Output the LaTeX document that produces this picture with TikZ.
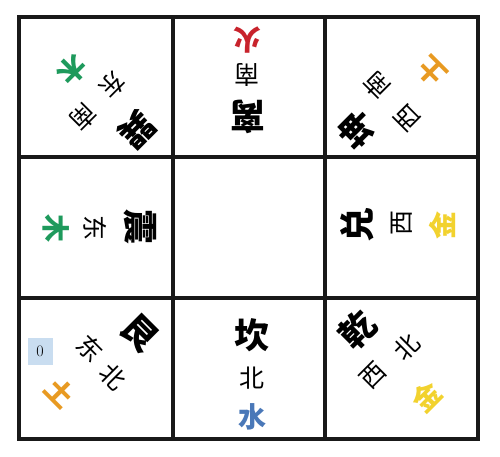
\documentclass[tikz,border=0pt]{standalone}
\usepackage{fontspec}
\newfontfamily\cjk{Noto Sans CJK SC}
\definecolor{mu}{HTML}{1E9A5C}
\definecolor{huo}{HTML}{C8232C}
\definecolor{tu}{HTML}{E89A22}
\definecolor{jin}{HTML}{F2D22E}
\definecolor{shui}{HTML}{4A78B8}
\definecolor{zerobg}{HTML}{C9DDF0}
\tikzset{
  gua/.style={inner sep=0pt,font=\cjk\bfseries\fontsize{35}{35}\selectfont},
  dir/.style={inner sep=0pt,font=\cjk\fontsize{25}{25}\selectfont},
  elem/.style={inner sep=0pt,font=\cjk\bfseries\fontsize{28}{28}\selectfont},
  gridline/.style={line width=4.5pt,black!90}
}
\begin{document}
\begin{tikzpicture}[x=1pt,y=-1pt]
\fill[white] (0,0) rectangle (500,456);
\useasboundingbox (0,0) rectangle (500,456);
% grid
\draw[gridline] (19,17) rectangle (478,439);
\draw[gridline] (173,17) -- (173,439);
\draw[gridline] (325,17) -- (325,439);
\draw[gridline] (19,157) -- (478,157);
\draw[gridline] (19,298) -- (478,298);
% top-left: xun
\node[elem,text=mu,rotate=-135] (tlE) at (72,70) {木};
\node[dir,rotate=-135] (tlD1) at (113,85) {东};
\node[dir,rotate=-135] (tlD2) at (83,117) {南};
\node[gua,rotate=-135] (tlG) at (137,130) {巽};
% top-middle: li
\node[elem,text=huo,rotate=180] (tmE) at (247,40) {火};
\node[dir,rotate=180] (tmD) at (247,75) {南};
\node[gua,rotate=180] (tmG) at (248,117) {离};
% top-right: kun
\node[elem,text=tu,rotate=135] (trE) at (432,72) {土};
\node[dir,rotate=135] (trD1) at (407,118) {西};
\node[dir,rotate=135] (trD2) at (377,85) {南};
\node[gua,rotate=135] (trG) at (357,130) {坤};
% middle-left: zhen
\node[elem,text=mu,rotate=-90] (mlE) at (56,228) {木};
\node[dir,rotate=-90] (mlD) at (95,228) {东};
\node[gua,rotate=-90] (mlG) at (140,227) {震};
% middle-right: dui
\node[gua,rotate=90] (mrG) at (357,225) {兑};
\node[dir,rotate=90] (mrD) at (402,223) {西};
\node[elem,text=jin,rotate=90] (mrE) at (442,225) {金};
% bottom-left: gen
\node[gua,rotate=-45] (blG) at (140,333) {艮};
\node[dir,rotate=-45] (blD1) at (90,348) {东};
\node[dir,rotate=-45] (blD2) at (113,377) {北};
\node[elem,text=tu,rotate=-45] (blE) at (60,392) {土};
\node[fill=zerobg,minimum width=25pt,minimum height=27pt,inner sep=0pt,font=\fontsize{16}{16}\selectfont] (zero) at (40,351) {0};
% bottom-middle: kan
\node[gua] (bmG) at (252,335) {坎};
\node[dir] (bmD) at (252,378) {北};
\node[elem,text=shui] (bmE) at (252,417) {水};
% bottom-right: qian
\node[gua,rotate=45] (brG) at (357,330) {乾};
\node[dir,rotate=45] (brD1) at (373,375) {西};
\node[dir,rotate=45] (brD2) at (407,347) {北};
\node[elem,text=jin,rotate=45] (brE) at (427,397) {金};
\end{tikzpicture}
\end{document}
